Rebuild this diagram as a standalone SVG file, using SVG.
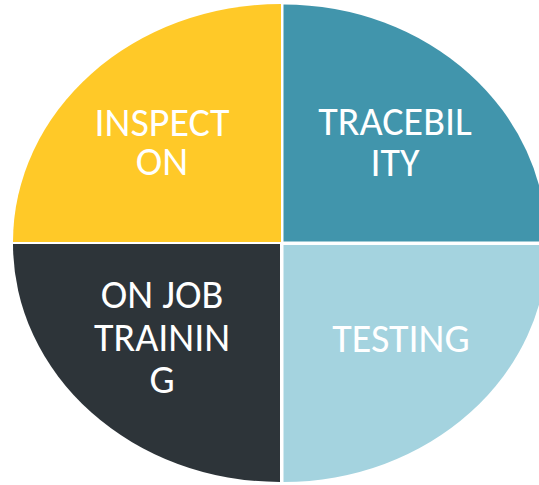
<svg xmlns="http://www.w3.org/2000/svg" width="539" height="485" viewBox="0 0 539 485">
<style>
.lbl{font-family:Carlito,"Liberation Sans Narrow","Liberation Sans",sans-serif;font-size:40px;fill:#FFFFFF;text-anchor:middle}
</style>
<rect width="539" height="485" fill="#FFFFFF"/>
<g id="connectors"></g>
<g id="inspection">
<path d="M281,242 L13,242 A268,238 0 0 1 281,4 Z" fill="#FFC928"/>
<text class="lbl" x="162" y="136">INSPECT</text>
<text class="lbl" x="162" y="175">ON</text>
</g>
<g id="traceability">
<path d="M283.5,241.5 L283.5,4.5 A263,237 0 0 1 546.5,241.5 Z" fill="#4195AC"/>
<text class="lbl" x="395" y="135">TRACEBIL</text>
<text class="lbl" x="395" y="176">ITY</text>
</g>
<g id="testing">
<path d="M283.5,245 L547.5,245 A264,237 0 0 1 283.5,482 Z" fill="#A4D3DF"/>
<text class="lbl" x="401" y="352">TESTING</text>
</g>
<g id="training">
<path d="M280,244 L280,482 A267,238 0 0 1 13,244 Z" fill="#2D3439"/>
<text class="lbl" x="162" y="308">ON JOB</text>
<text class="lbl" x="162" y="351">TRAININ</text>
<text class="lbl" x="162" y="393">G</text>
</g>
</svg>
